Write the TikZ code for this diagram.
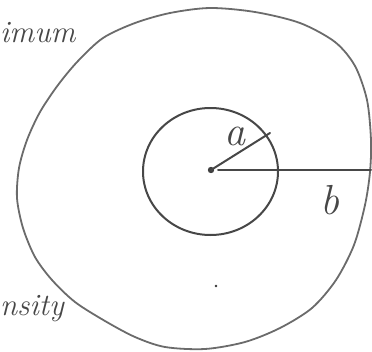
\documentclass[tikz,border=0pt]{standalone}
\begin{document}
\begin{tikzpicture}[x=1pt,y=-1pt,
  pencil/.style={draw=black!58,line width=1.8pt,line cap=round,line join=round},
  pencildark/.style={draw=black!72,line width=2pt,line cap=round,line join=round},
  hand/.style={text=black!72,font=\itshape\fontsize{31}{31}\selectfont,inner sep=0pt},
  handbig/.style={text=black!72,font=\itshape\fontsize{42}{42}\selectfont,inner sep=0pt}]
\useasboundingbox (0,0) rectangle (372,351);
% outer circle
\draw[pencil] plot[smooth cycle] coordinates {
 (210,8) (255,12) (300,23) (335,42) (355,66) (367,100) (371,140) (370,172)
 (365,205) (354,245) (336,280) (312,308) (280,328) (245,342) (205,349)
 (165,347) (135,337) (105,321) (75,302) (52,280) (35,257)
 (23,228) (17,198) (19,168) (27,140) (40,112) (58,85) (78,61) (103,38) (135,23) (170,13)};
% inner circle
\coordinate (O) at (211,170);
\draw[pencildark] (210.5,171.5) ellipse [x radius=67.5, y radius=63.5];
\fill[black!75] (O) circle (3.2);
% radii
\coordinate (A) at (270,133);
\coordinate (Bs) at (218,170);
\coordinate (B) at (371,170);
\draw[pencildark] (O) -- (A);
\draw[pencildark] (Bs) -- (B);
\node[handbig,anchor=base] (la) at (235,145) {a};
\node[handbig,anchor=base] (lb) at (330,214) {b};
% labels at the left edge
\node[hand,anchor=base west] (t1) at (0,42) {imum};
\node[hand,anchor=base west] (t2) at (0,315) {nsity};
% stray dot
\fill[black!80] (216,286) circle (1.3);
\end{tikzpicture}
\end{document}
